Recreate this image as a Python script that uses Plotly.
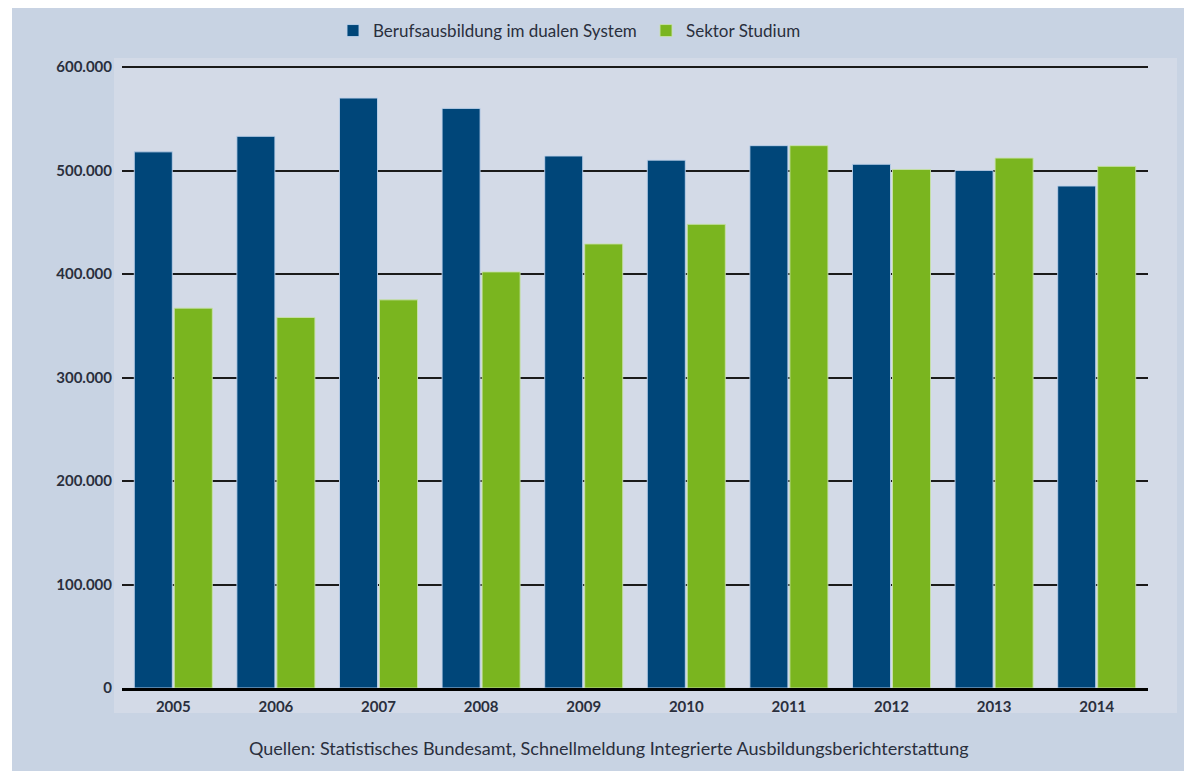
import plotly.graph_objects as go

years = ["2005", "2006", "2007", "2008", "2009", "2010", "2011", "2012", "2013", "2014"]
dual = [518000, 533000, 570000, 560000, 514000, 510000, 524000, 506000, 500000, 485000]
studium = [367000, 358000, 375000, 402000, 429000, 448000, 524000, 501000, 512000, 504000]
y_ticks = [0, 100000, 200000, 300000, 400000, 500000, 600000]

BLUE = "#004679"
GREEN = "#7ab51f"
OUTER = "#c8d3e3"
INNER = "#d3dae7"
TEXT = "#2a2f3d"

fig = go.Figure()
fig.add_trace(go.Bar(x=years, y=dual, name="Berufsausbildung im dualen System",
                     marker=dict(color=BLUE, line=dict(color="rgba(190,210,235,0.9)", width=1))))
fig.add_trace(go.Bar(x=years, y=studium, name="Sektor Studium",
                     marker=dict(color=GREEN, line=dict(color="rgba(200,225,170,0.9)", width=1))))

W, H = 1184, 771
L, R, T, B = 122, 36, 67, 83
pw, ph = W - L - R, H - T - B

def px_x(x):
    return (x - L) / pw

def px_y(y):
    return (H - B - y) / ph

shapes = [
    # outer panel (white border top/left)
    dict(type="rect", xref="paper", yref="paper", layer="below",
         x0=px_x(12), x1=px_x(1184), y0=px_y(771), y1=px_y(8),
         fillcolor=OUTER, line=dict(width=0)),
    # inner lighter area
    dict(type="rect", xref="paper", yref="paper", layer="below",
         x0=px_x(114), x1=px_x(1177), y0=px_y(713), y1=px_y(58),
         fillcolor=INNER, line=dict(width=0)),
    # top gridline at the axis maximum (plot top edge)
    dict(type="line", xref="paper", yref="paper", layer="below",
         x0=0, x1=1, y0=1, y1=1,
         line=dict(color="#1a1a1a", width=2)),
]

fig.update_layout(
    width=W, height=H,
    margin=dict(l=L, r=R, t=T, b=B, pad=0),
    paper_bgcolor="white",
    plot_bgcolor="rgba(0,0,0,0)",
    separators=",.",
    barmode="group",
    bargap=0.22,
    bargroupgap=0.05,
    shapes=shapes,
    font=dict(family="Lato, Open Sans, sans-serif", color=TEXT),
    legend=dict(orientation="h", x=px_x(333), xanchor="left", y=px_y(31), yanchor="middle",
                font=dict(size=17, color=TEXT), bgcolor="rgba(0,0,0,0)",
                entrywidth=268, traceorder="normal"),
    xaxis=dict(type="category", range=[-0.5, 9.5], showgrid=False,
               showline=True, linecolor="#000000", linewidth=3,
               ticks="", tickfont=dict(size=15, color=TEXT, weight="bold"),
               ticklabelstandoff=3),
    yaxis=dict(range=[0, 600000], tickvals=y_ticks, tickformat=",d",
               showgrid=True, gridcolor="#1a1a1a", gridwidth=2,
               zeroline=False, showline=False, ticks="",
               tickfont=dict(size=15, color=TEXT, weight="bold"),
               ticklabelstandoff=9),
    annotations=[dict(text="Quellen: Statistisches Bundesamt, Schnellmeldung Integrierte Ausbildungsberichterstattung",
                      xref="paper", yref="paper", x=px_x(609), y=px_y(748),
                      xanchor="center", yanchor="middle", showarrow=False,
                      font=dict(size=18, color=TEXT))],
)

fig.write_html("out.html")
